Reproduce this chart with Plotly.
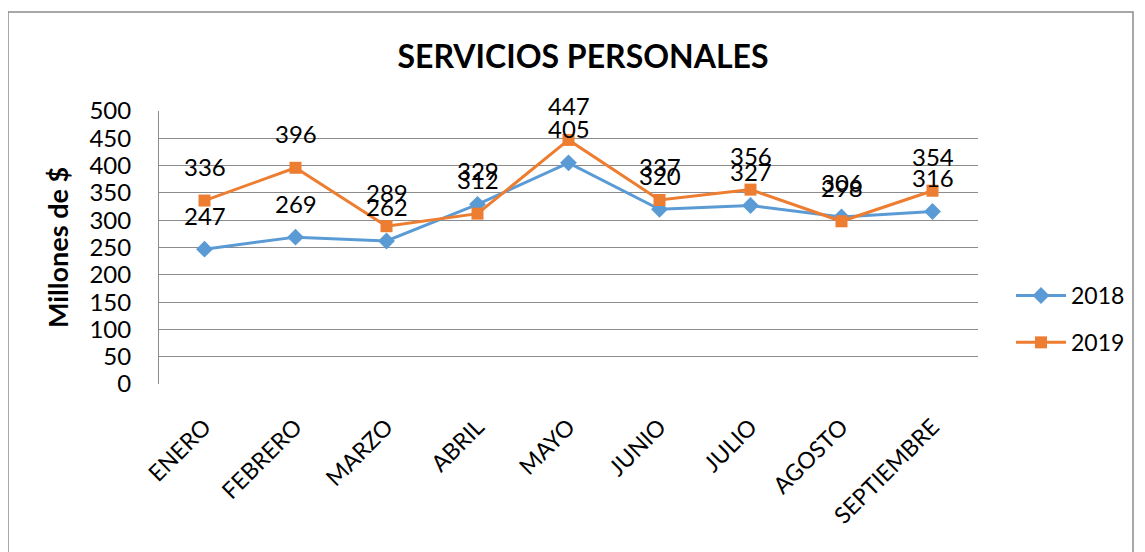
import plotly.graph_objects as go

meses = ["ENERO", "FEBRERO", "MARZO", "ABRIL", "MAYO", "JUNIO", "JULIO", "AGOSTO", "SEPTIEMBRE"]
v2018 = [247, 269, 262, 329, 405, 320, 327, 306, 316]
v2019 = [336, 396, 289, 312, 447, 337, 356, 298, 354]

BLUE = "#5B9BD5"
ORANGE = "#ED7D31"
FONT = "Lato"
# the page body has a default 8px margin: work in page pixels and convert
OFF = 8
W, H = 1145 - OFF, 552 - OFF
PL, PR, PT, PB = 159, 978, 111, 384  # plot area in page pixels
L, T = PL - OFF, PT - OFF
R = W - (PR - OFF)
B = H - (PB - OFF)
pw = W - L - R
ph = H - T - B


def px(xp):
    return (xp - PL) / pw


def py(yp):
    return 1 - (yp - PT) / ph


fig = go.Figure()
fig.add_trace(go.Scatter(x=meses, y=v2018, name="2018", mode="lines+markers",
                         line=dict(color=BLUE, width=3),
                         marker=dict(symbol="diamond", size=13, color=BLUE),
                         legendgroup="a"))
fig.add_trace(go.Scatter(x=meses, y=v2019, name="2019", mode="lines+markers",
                         line=dict(color=ORANGE, width=3),
                         marker=dict(symbol="square", size=12, color=ORANGE),
                         legendgroup="b"))

for serie in (v2018, v2019):
    for m, v in zip(meses, serie):
        fig.add_annotation(x=m, y=v, text=str(v), showarrow=False, yshift=34,
                           font=dict(family=FONT, size=24, color="black"))

fig.add_shape(type="rect", xref="paper", yref="paper",
              x0=px(8), x1=px(1133), y0=py(570), y1=py(12),
              line=dict(color="#8C8C8C", width=1.5), fillcolor="rgba(0,0,0,0)", layer="below")

fig.update_layout(
    width=W, height=H,
    margin=dict(l=L, r=R, t=T, b=B, autoexpand=False),
    paper_bgcolor="white", plot_bgcolor="white",
    title=dict(text="<b>SERVICIOS PERSONALES</b>", x=(583 - OFF) / W, xanchor="center",
               y=1 - (57 - OFF) / H, yanchor="middle",
               font=dict(family=FONT, size=32, color="black")),
    font=dict(family=FONT, color="black"),
    showlegend=True,
    legend=dict(x=px(1011), y=py(274), xanchor="left", yanchor="top",
                font=dict(family=FONT, size=23, color="black"), tracegroupgap=14,
                bgcolor="rgba(0,0,0,0)", itemwidth=50),
    xaxis=dict(type="category", range=[-0.5, 8.5], showgrid=False, showline=False,
               tickangle=-45, tickfont=dict(family=FONT, size=23, color="black"),
               ticks="", ticklabelstandoff=24, zeroline=False, automargin=False),
    yaxis=dict(range=[0, 500], dtick=50, showgrid=True, gridcolor="#8C8C8C", gridwidth=1,
               showline=True, linecolor="#8C8C8C", linewidth=1, zeroline=False,
               tickfont=dict(family=FONT, size=24, color="black"), ticks="",
               ticklabelstandoff=22, automargin=False,
               title=dict(text="<b>Millones de $</b>", font=dict(family=FONT, size=27, color="black"),
                          standoff=12)),
)

fig.write_html("out.html")
